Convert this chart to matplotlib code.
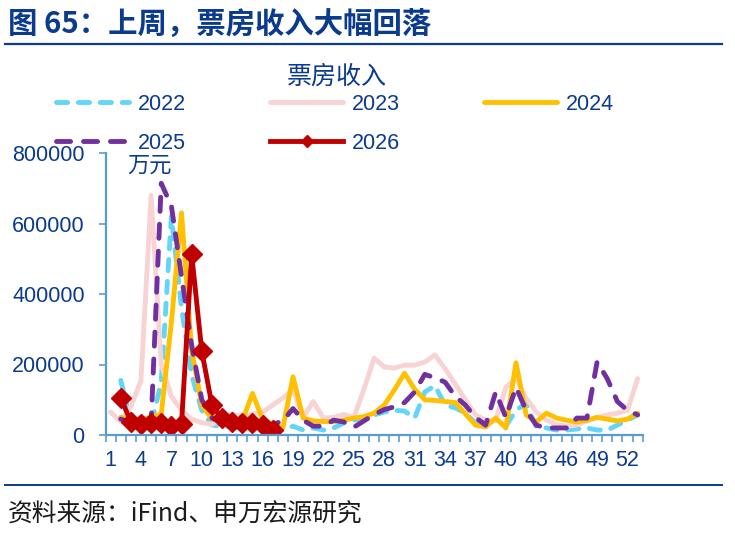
import numpy as np
import matplotlib
matplotlib.use("Agg")
import matplotlib.pyplot as plt
from matplotlib.lines import Line2D

nan = np.nan
weeks = list(range(1, 54))
tick_weeks = list(range(1, 53, 3))

s2022 = [nan, 155000, 40000, 28000, 28000, 150000, 620000, 360000, 170000, 70000,
         28000, 25000, 22000, 20000, 25000, 22000, 18000, 15000, 25000, 14000,
         20000, 14000, 20000, 34000, 42000, 48000, 57000, 65000, 70000, 68000,
         48000, 122000, 140000, 85000, 77000, 62000, 34000, 28000, 45000, 25000,
         70000, 90000, 23000, 20000, 14000, 14000, 17000, 20000, 14000, 14000,
         28000, 42000, 57000]
s2023 = [65000, 38000, 80000, 155000, 680000, 200000, 110000, 70000, 45000, 35000,
         30000, 48000, 60000, 50000, 60000, 65000, 85000, 105000, 128000, 50000,
         95000, 48000, 50000, 58000, 50000, 130000, 218000, 193000, 190000, 198000,
         198000, 207000, 227000, 188000, 145000, 100000, 57000, 42000, 42000, 135000,
         160000, 105000, 65000, 42000, 30000, 25000, 28000, 40000, 50000, 57000,
         62000, 70000, 160000]
s2024 = [nan, 50000, 45000, 45000, 50000, 60000, 320000, 630000, 240000, 85000,
         45000, 40000, 38000, 40000, 118000, 45000, 30000, 20000, 165000, 48000,
         40000, 38000, 38000, 42000, 48000, 52000, 62000, 85000, 128000, 175000,
         130000, 100000, 98000, 95000, 92000, 60000, 28000, 23000, 48000, 20000,
         205000, 57000, 37000, 62000, 48000, 42000, 37000, 42000, 50000, 45000,
         40000, 45000, 62000]
s2025 = [nan, 45000, 35000, 30000, 35000, 714000, 650000, 450000, 255000, 100000,
         48000, 35000, 30000, 30000, 28000, 28000, 30000, 40000, 75000, 42000,
         25000, 25000, 42000, 37000, 22000, 40000, 58000, 72000, 80000, 92000,
         122000, 172000, 162000, 150000, 110000, 85000, 50000, 28000, 122000, 50000,
         135000, 70000, 28000, 20000, 20000, 20000, 48000, 48000, 207000, 160000,
         95000, 70000, 57000]
s2026 = [nan, 105000, 38000, 30000, 35000, 35000, 25000, 32000, 513000, 238000,
         85000, 47000, 37000, 34000, 34000, 28000, 14000]

labels = ["2022", "2023", "2024", "2025", "2026"]
colors = ["#63D5F8", "#F8D3D3", "#FFC000", "#7030A0", "#C00000"]

BLUE = "#0B3B8F"
AXC = "#5B9BD5"
NUMF = ["Liberation Sans", "Noto Sans CJK SC", "DejaVu Sans"]
CJKF = ["Noto Sans CJK SC", "DejaVu Sans"]
plt.rcParams["font.family"] = NUMF

fig = plt.figure(figsize=(7.35, 5.35), dpi=100)
W, H = 735, 535
ax = fig.add_axes([105.5 / W, 1 - 435 / H, (642.7 - 105.5) / W, (435 - 153) / H])

lw = 3.5
h0, = ax.plot(weeks, s2022, color=colors[0], lw=lw, dashes=(2.3, 2.2),
              dash_capstyle="round", label=labels[0])
h1, = ax.plot(weeks, s2023, color=colors[1], lw=lw, solid_capstyle="round", label=labels[1])
h2, = ax.plot(weeks, s2024, color=colors[2], lw=lw, solid_capstyle="round", label=labels[2])
h3, = ax.plot(weeks, s2025, color=colors[3], lw=lw, dashes=(2.9, 2.65),
              dash_capstyle="round", label=labels[3])
h4, = ax.plot(weeks[:len(s2026)], s2026, color=colors[4], lw=lw, marker="D", ms=10,
              mec=colors[4], mfc=colors[4], label=labels[4])

ax.set_xlim(0.5, 53.5)
ax.set_ylim(0, 800000)
for sp in ["top", "right"]:
    ax.spines[sp].set_visible(False)
for sp in ["left", "bottom"]:
    ax.spines[sp].set_color(AXC)
    ax.spines[sp].set_linewidth(1.6)

ax.set_xticks(tick_weeks)
ax.set_xticklabels([str(t) for t in tick_weeks])
ax.set_xticks(np.arange(0.5, 54, 1), minor=True)
ax.tick_params(axis="x", which="major", length=0, pad=11, labelsize=15.5, labelcolor=BLUE)
ax.tick_params(axis="x", which="minor", length=5, width=1.2, color=AXC, direction="out")
ax.set_yticks(np.arange(0, 800001, 200000))
ax.set_yticklabels([str(int(v)) for v in np.arange(0, 800001, 200000)])
ax.tick_params(axis="y", which="major", length=5, width=1.2, color=AXC, pad=10,
               labelsize=15.5, labelcolor=BLUE)

# row-major order for a 3-column legend
order_h = [h0, h3, h1, h4, h2]
order_l = [labels[0], labels[3], labels[1], labels[4], labels[2]]
leg = fig.legend(order_h, order_l, ncol=3, loc="upper center",
                 bbox_to_anchor=(335 / W, 1 - 83 / H), frameon=False,
                 fontsize=15.5, handlelength=3.4, handletextpad=0.4, columnspacing=3.9,
                 labelspacing=0.83, markerscale=0.6, borderpad=0)
for t in leg.get_texts():
    t.set_color(BLUE)

fig.text(337 / W, 1 - 77 / H, "票房收入", family=CJKF, fontsize=18, color=BLUE,
         ha="center", va="center")
fig.text(127 / W, 1 - 165 / H, "万元", family=CJKF, fontsize=16, color=BLUE,
         ha="left", va="center")

fig.text(8 / W, 1 - 24 / H, "图 65：上周，票房收入大幅回落", family=CJKF, fontsize=21.2,
         fontweight="bold", color=BLUE, ha="left", va="center")
fig.add_artist(Line2D([5 / W, 722 / W], [1 - 44 / H, 1 - 44 / H], color=BLUE, lw=1.6,
                      transform=fig.transFigure))
fig.add_artist(Line2D([5 / W, 722 / W], [1 - 485 / H, 1 - 485 / H], color=BLUE, lw=1.4,
                      transform=fig.transFigure))
fig.text(8 / W, 1 - 515 / H, "资料来源：iFind、申万宏源研究", family=CJKF, fontsize=17.8,
         color="#1B1B1B", ha="left", va="center")

fig.savefig("out.png", dpi=100)
